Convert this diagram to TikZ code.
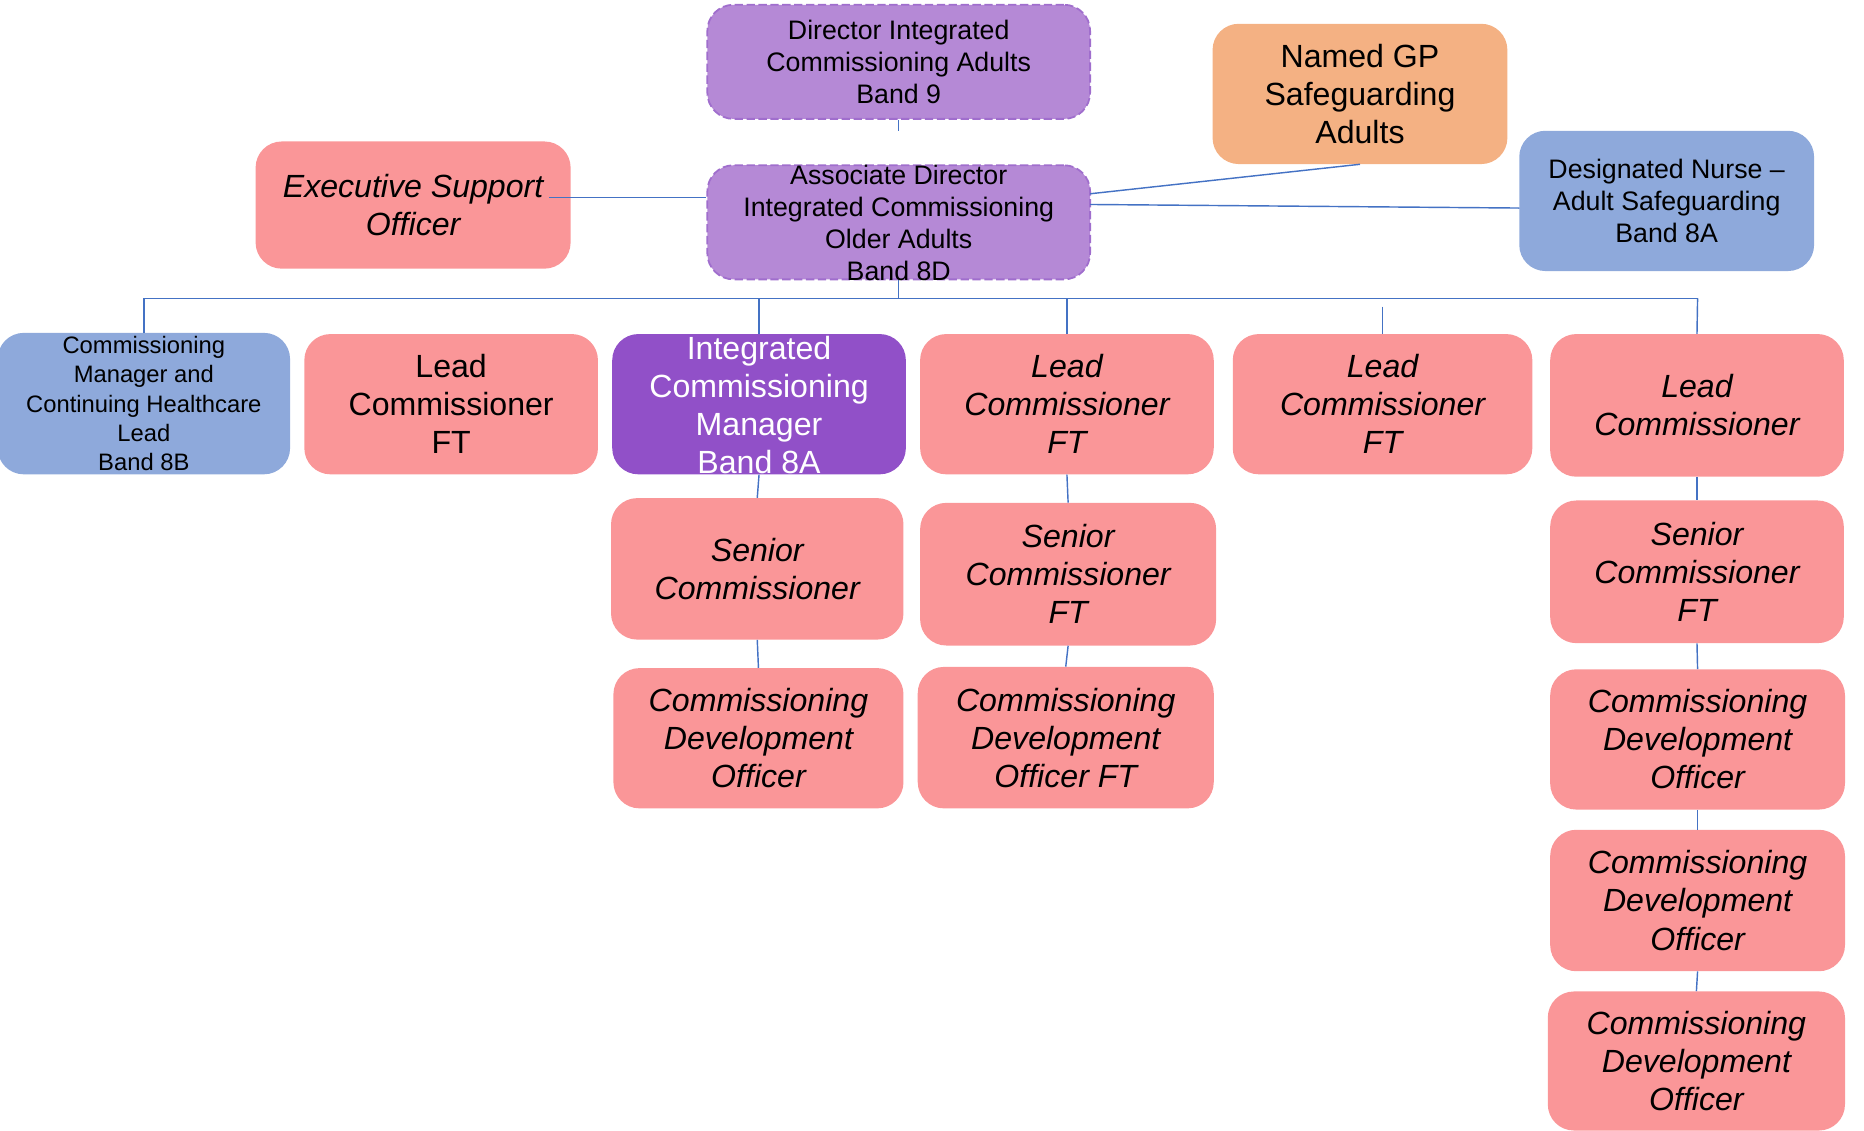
\documentclass[tikz,border=0pt]{standalone}
\usepackage{fontspec}
\setmainfont{Liberation Sans}
\usetikzlibrary{calc}
\definecolor{pinkc}{RGB}{250,150,152}
\definecolor{lilac}{RGB}{181,137,214}
\definecolor{lilacd}{RGB}{160,110,205}
\definecolor{violet}{RGB}{145,80,200}
\definecolor{orangec}{RGB}{244,177,131}
\definecolor{bluec}{RGB}{142,169,219}
\definecolor{linec}{RGB}{68,114,196}
\tikzset{
  box/.style={rectangle, rounded corners=22pt, inner sep=0pt, align=center, text=black},
  pinkbox/.style={box, fill=pinkc, font=\fontsize{27}{32}\selectfont\itshape},
  pinkup/.style={box, fill=pinkc, font=\fontsize{27}{32}\selectfont},
  lilacbox/.style={box, fill=lilac, draw=lilacd, line width=1.5pt, dash pattern=on 7pt off 3pt, font=\fontsize{22.5}{27}\selectfont},
  violetbox/.style={box, fill=violet, font=\fontsize{27}{32}\selectfont},
  orangebox/.style={box, fill=orangec, font=\fontsize{27}{32}\selectfont},
  bluebox/.style={box, fill=bluec},
  txt/.style={inner sep=0pt, align=center},
  conn/.style={draw=linec, line width=1.2pt},
}
\begin{document}
\begin{tikzpicture}[x=1pt,y=-1pt]
\useasboundingbox (0,0) rectangle (1568,951);

% top
\node[lilacbox, minimum width=322pt, minimum height=96pt] (dir) at (756,52) {Director Integrated\\Commissioning Adults\\Band 9};
\node[lilacbox, minimum width=322pt, minimum height=96pt] (assoc) at (756,187) {};
\node[txt, font=\fontsize{22.5}{27}\selectfont] (assoct) at (756,187.5) {Associate Director\\Integrated Commissioning\\Older Adults\\Band 8D};
\node[pinkbox, minimum width=265pt, minimum height=107pt] (exec) at (347.5,172.5) {Executive Support\\Officer};
\node[orangebox, minimum width=248pt, minimum height=118pt] (gp) at (1144,79) {Named GP\\Safeguarding\\Adults};
\node[bluebox, minimum width=248pt, minimum height=118pt, font=\fontsize{22.5}{27}\selectfont] (dn) at (1402,169) {Designated Nurse --\\Adult Safeguarding\\Band 8A};

% row 2
\node[bluebox, minimum width=246pt, minimum height=119pt, font=\fontsize{20}{24.5}\selectfont] (cm) at (121,339.5) {Commissioning\\Manager and\\Continuing Healthcare\\Lead\\Band 8B};
\node[pinkup, minimum width=247pt, minimum height=118pt] (lc1) at (379.5,340) {Lead\\Commissioner\\FT};
\node[violetbox, minimum width=247pt, minimum height=118pt] (icm) at (638.5,340) {};
\node[txt, text=white, font=\fontsize{27}{32}\selectfont] (icmt) at (638.5,341) {Integrated\\Commissioning\\Manager\\Band 8A};
\node[pinkbox, minimum width=247pt, minimum height=118pt] (lc2) at (897.5,340) {Lead\\Commissioner\\FT};
\node[pinkbox, minimum width=252pt, minimum height=118pt] (lc3) at (1163,340) {Lead\\Commissioner\\FT};
\node[pinkbox, minimum width=247pt, minimum height=120pt] (lc4) at (1427.5,341) {Lead\\Commissioner};

% row 3
\node[pinkbox, minimum width=246pt, minimum height=119pt] (sc1) at (637,478.5) {Senior\\Commissioner};
\node[pinkbox, minimum width=249pt, minimum height=120pt] (sc2) at (898.5,483) {Senior\\Commissioner\\FT};
\node[pinkbox, minimum width=247pt, minimum height=120pt] (sc3) at (1427.5,481) {Senior\\Commissioner\\FT};

% row 4+
\node[pinkbox, minimum width=244pt, minimum height=118pt] (cdo1) at (638,621) {Commissioning\\Development\\Officer};
\node[pinkbox, minimum width=249pt, minimum height=119pt] (cdo2) at (896.5,620.5) {Commissioning\\Development\\Officer FT};
\node[pinkbox, minimum width=248pt, minimum height=118pt] (cdo3) at (1428,622) {Commissioning\\Development\\Officer};
\node[pinkbox, minimum width=248pt, minimum height=119pt] (cdo4) at (1428,757.5) {Commissioning\\Development\\Officer};
\node[pinkbox, minimum width=250pt, minimum height=117pt] (cdo5) at (1427,892.5) {Commissioning\\Development\\Officer};

% connectors
\coordinate (dirstub) at (756,110);
\draw[conn] (dir.south) -- (dirstub);
\coordinate (busc) at (756,251);
\coordinate (busl) at (121,251);
\coordinate (busr) at (1428,251);
\draw[conn] (assoc.south) -- (busc);
\draw[conn] (busl) -- (busr);
\draw[conn] (busl) -- (cm.north);
\draw[conn] (icm.north |- busc) -- (icm.north);
\draw[conn] (lc2.north |- busc) -- (lc2.north);
\draw[conn] (busr) -- (lc4.north);
\coordinate (lc3top) at (1163,258);
\draw[conn] (lc3top) -- (lc3.north);

\draw[conn] (icm.south) -- (sc1.north);
\draw[conn] (sc1.south) -- (cdo1.north);
\draw[conn] (lc2.south) -- (sc2.north);
\draw[conn] (sc2.south) -- (cdo2.north);
\draw[conn] (lc4.south) -- (sc3.north);
\draw[conn] (sc3.south) -- (cdo3.north);
\draw[conn] (cdo3.south) -- (cdo4.north);
\draw[conn] (cdo4.south) -- (cdo5.north);

\coordinate (ex1) at (462,166);
\draw[conn] (ex1) -- (ex1 -| assoc.west);
\coordinate (gpa) at (917,163);
\draw[conn] (gpa) -- (gp.south);
\coordinate (dna) at (917,172);
\coordinate (dnb) at (1278,175);
\draw[conn] (dna) -- (dnb);
\end{tikzpicture}
\end{document}
